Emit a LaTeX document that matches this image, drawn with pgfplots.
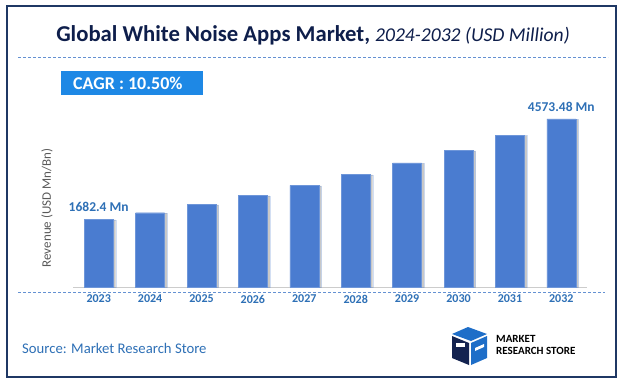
\documentclass[border=0pt]{standalone}
\usepackage{fontspec}
\setmainfont{Carlito}
\usepackage{pgfplots}
\pgfplotsset{compat=1.18}
\usetikzlibrary{shadows}
\definecolor{barblue}{RGB}{74,124,208}
\definecolor{labblue}{RGB}{46,112,182}
\definecolor{navy}{RGB}{14,30,75}
\definecolor{bordercol}{RGB}{31,56,100}
\definecolor{cagr}{RGB}{30,136,229}
\definecolor{dashblue}{RGB}{100,145,210}
\definecolor{logoblue}{RGB}{30,110,200}
\definecolor{logonavy}{RGB}{20,35,80}
\begin{document}
\begin{tikzpicture}[x=1pt,y=1pt]
\fill[white] (0,0) rectangle (623,-384);
\draw[bordercol, line width=1.3pt] (7,-6) rectangle (616,-377);
\node[anchor=base, navy, inner sep=0pt] at (313,-41) {\fontsize{22.7}{26}\selectfont\bfseries Global White Noise Apps Market, \mdseries\itshape\fontsize{19.6}{22}\selectfont 2024-2032 (USD Million)};
\draw[dashblue, dash pattern=on 3pt off 2pt, line width=0.8pt] (18,-57) -- (608,-57);
\fill[cagr] (61,-71) rectangle (203,-95);
\node[white, font=\fontsize{18}{20}\selectfont\bfseries, anchor=west, inner sep=0pt] at (73,-83) {CAGR :\ 10.50\%};
\node[rotate=90, text=black!65, font=\fontsize{13}{15}\selectfont, inner sep=0pt] at (47,-208) {Revenue (USD Mn/Bn)};
\draw[dashblue, dash pattern=on 3pt off 2pt, line width=0.8pt] (18,-292) -- (605,-292);
\begin{axis}[
  at={(73pt,-287pt)}, anchor=south west,
  scale only axis, width=514pt, height=182.8pt,
  xmin=-0.5, xmax=9.5, ymin=-270, ymax=5000,
  y coord trafo/.code={\pgfmathparse{#1+270}},
  y coord inv trafo/.code={\pgfmathparse{#1-270}},
  hide y axis,
  axis x line*=bottom,
  x axis line style={black!20, line width=0.8pt},
  xtick=data,
  xticklabels={2023,2024,2025,2026,2027,2028,2029,2030,2031,2032},
  xticklabel style={text=labblue, font=\fontsize{12}{14}\selectfont\bfseries, yshift=-4.5pt},
  major tick length=0pt,
  clip=false,
  /pgf/number format/assume math mode=true,
]
\addplot[ybar, bar width=29pt, fill=barblue, draw=barblue!80!white,
  drop shadow={shadow xshift=2.5pt, shadow yshift=-0.5pt, opacity=0.3, fill=black!70}]
  coordinates {(0,1682.4) (1,1872) (2,2114) (3,2374) (4,2662) (5,2979) (6,3305) (7,3671) (8,4112) (9,4573.48)};
\node[text=labblue, font=\fontsize{13.5}{15}\selectfont\bfseries, anchor=south, inner sep=0pt] at (axis cs:0,1682.4) [yshift=7pt] {1682.4 Mn};
\node[text=labblue, font=\fontsize{13.5}{15}\selectfont\bfseries, anchor=south, inner sep=0pt] at (axis cs:9,4573.48) [yshift=7pt] {4573.48 Mn};
\end{axis}
\node[anchor=west, text=labblue, font=\fontsize{14.7}{17}\selectfont, inner sep=0pt] at (22,-348) {Source: Market Research Store};
% logo
\fill[logoblue] (452,-334) -- (468,-327) -- (487,-334) -- (471,-341) -- cycle;
\fill[logonavy] (452,-336) -- (469,-343) -- (469,-365) -- (452,-358) -- cycle;
\fill[logoblue] (471,-343) -- (487,-336) -- (487,-358) -- (471,-365) -- cycle;
\fill[white] (456,-343) rectangle (465,-347);
\fill[white] (475,-348) -- (484,-344) -- (484,-347) -- (475,-351) -- cycle;
\node[anchor=base west, font=\fontsize{11}{11}\selectfont\bfseries, inner sep=0pt] at (496,-342.5) {MARKET};
\node[anchor=base west, font=\fontsize{11}{11}\selectfont\bfseries, inner sep=0pt] at (496,-354) {RESEARCH STORE};
\pgfresetboundingbox
\path (0,0) rectangle (623,-384);
\end{tikzpicture}
\end{document}
